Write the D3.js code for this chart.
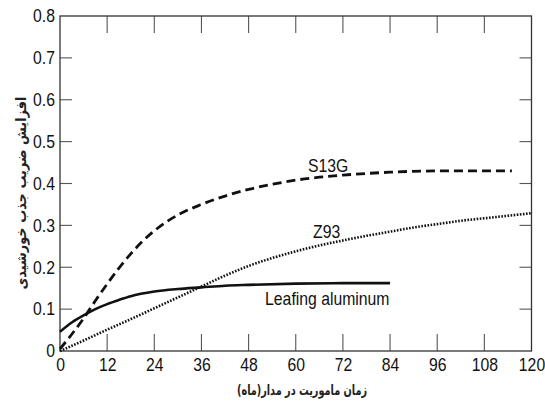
<!DOCTYPE html>
<html><head><meta charset="utf-8">
<script src="https://cdn.jsdelivr.net/npm/d3@7"></script>
<style>
html,body{margin:0;padding:0;background:#fff;}
svg{display:block;}
.tick text,.lbl{font-family:"Liberation Sans Narrow","Arial Narrow","Liberation Sans",Arial,sans-serif;font-size:19px;fill:#111;}
.title{font-family:"DejaVu Sans",sans-serif;font-size:14px;font-weight:bold;fill:#222;}
</style></head><body>
<svg id="c" width="545" height="405"></svg>
<script>
// Data
const s13gMonths = [0, 3, 6, 9, 12, 15, 18, 21, 24, 30, 36, 42, 48, 54, 60, 66, 72, 78, 84, 96, 108, 115];
const s13gValues = [0.005, 0.04, 0.078, 0.12, 0.16, 0.198, 0.232, 0.262, 0.287, 0.325, 0.35, 0.37, 0.386, 0.398, 0.408, 0.415, 0.42, 0.424, 0.427, 0.43, 0.43, 0.43];
const z93Months = [0, 6, 12, 18, 24, 30, 36, 42, 48, 54, 60, 66, 72, 78, 84, 90, 96, 102, 108, 114, 120];
const z93Values = [0.0, 0.025, 0.051, 0.076, 0.102, 0.128, 0.154, 0.18, 0.203, 0.222, 0.238, 0.252, 0.264, 0.275, 0.285, 0.295, 0.303, 0.311, 0.317, 0.323, 0.329];
const alMonths = [0, 3, 6, 9, 12, 15, 18, 24, 30, 36, 42, 48, 60, 72, 84];
const alValues = [0.046, 0.068, 0.085, 0.1, 0.112, 0.122, 0.131, 0.142, 0.148, 0.152, 0.156, 0.158, 0.161, 0.162, 0.162];
const xTicks = [0, 12, 24, 36, 48, 60, 72, 84, 96, 108, 120];
const yTicks = [0, 0.1, 0.2, 0.3, 0.4, 0.5, 0.6, 0.7, 0.8];
const seriesLabels = ["S13G", "Z93", "Leafing aluminum"];
const xTitle = "زمان ماموریت در مدار(ماه)";
const yTitle = "افزایش ضریب جذب خورشیدی";

const svg = d3.select("#c");
const L = 60, R = 531.5, T = 16, B = 351;
const x = d3.scaleLinear().domain([0, 120]).range([L, R]);
const y = d3.scaleLinear().domain([0, 0.8]).range([B, T]);
const SX = 0.83; // condensed look

const fmtY = d => d === 0 ? "0" : d3.format(".1f")(d);

const gx = svg.append("g").attr("transform", `translate(0,${B})`)
  .call(d3.axisBottom(x).tickValues(xTicks).tickSize(0).tickPadding(0));
gx.select(".domain").remove();
gx.selectAll(".tick line").remove();
gx.selectAll(".tick text").attr("y", 0).attr("dy", 0).attr("transform", `translate(0,19.5) scale(${SX},1)`);

const gy = svg.append("g").attr("transform", `translate(${L},0)`)
  .call(d3.axisLeft(y).tickValues(yTicks).tickFormat(fmtY).tickSize(0).tickPadding(0));
gy.select(".domain").remove();
gy.selectAll(".tick line").remove();
gy.selectAll(".tick text").attr("x", 0).attr("dy", "0.36em").attr("transform", `translate(-5,-1) scale(${SX},1)`);

const tickCol = "#555";
xTicks.slice(1, -1).forEach(v => {
  svg.append("line").attr("x1", x(v)).attr("x2", x(v)).attr("y1", B).attr("y2", B - 17).attr("stroke", tickCol).attr("stroke-width", 1.1);
  svg.append("line").attr("x1", x(v)).attr("x2", x(v)).attr("y1", T).attr("y2", T + 17).attr("stroke", tickCol).attr("stroke-width", 1.1);
});
yTicks.slice(1, -1).forEach(v => {
  svg.append("line").attr("x1", L).attr("x2", L + 12).attr("y1", y(v)).attr("y2", y(v)).attr("stroke", tickCol).attr("stroke-width", 1.1);
  svg.append("line").attr("x1", R).attr("x2", R - 12).attr("y1", y(v)).attr("y2", y(v)).attr("stroke", tickCol).attr("stroke-width", 1.1);
});

svg.append("rect").attr("x", L).attr("y", T).attr("width", R - L).attr("height", B - T)
  .attr("fill", "none").attr("stroke", "#333").attr("stroke-width", 1.3);

const line = d3.line().x(d => x(d[0])).y(d => y(d[1])).curve(d3.curveMonotoneX);

svg.append("path").datum(d3.zip(s13gMonths, s13gValues)).attr("d", line)
  .attr("fill", "none").attr("stroke", "#111").attr("stroke-width", 2.8).attr("stroke-dasharray", "9,5");
svg.append("path").datum(d3.zip(z93Months, z93Values)).attr("d", line)
  .attr("fill", "none").attr("stroke", "#111").attr("stroke-width", 2.6).attr("stroke-dasharray", "1.6,1.5");
svg.append("path").datum(d3.zip(alMonths, alValues)).attr("d", line)
  .attr("fill", "none").attr("stroke", "#111").attr("stroke-width", 2.6);

const lblPos = [[63.1, 0.4275], [64.4, 0.270], [52.2, 0.110]];
seriesLabels.forEach((t, i) => {
  svg.append("text").attr("class", "lbl")
    .attr("transform", `translate(${x(lblPos[i][0])},${y(lblPos[i][1])}) scale(${SX},1)`).text(t);
});

svg.append("text").attr("class", "title").attr("x", 302).attr("y", 395)
  .attr("text-anchor", "middle").attr("direction", "rtl")
  .attr("textLength", 130).attr("lengthAdjust", "spacingAndGlyphs").text(xTitle);
svg.append("text").attr("class", "title").attr("transform", "translate(26,193) rotate(-90)")
  .attr("text-anchor", "middle").attr("direction", "rtl")
  .attr("textLength", 193).attr("lengthAdjust", "spacingAndGlyphs").text(yTitle);
</script>
</body></html>
